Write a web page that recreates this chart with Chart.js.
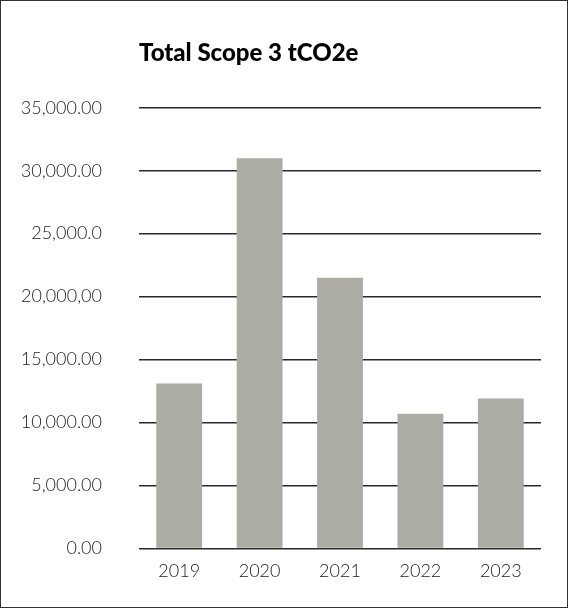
<!DOCTYPE html>
<html>
<head>
<meta charset="utf-8">
<script src="https://cdn.jsdelivr.net/npm/chart.js@4"></script>
<style>
  html, body { margin: 0; padding: 0; background: #fff; }
  #wrap { width: 568px; height: 608px; box-sizing: border-box; border: 1px solid #333; position: relative; }
  canvas { display: block; }
</style>
</head>
<body>
<div id="wrap"><canvas id="scopeChart" width="566" height="606"></canvas></div>
<script>
// values
const years = ['2019', '2020', '2021', '2022', '2023'];
const scope3 = [13100, 31000, 21500, 10700, 11900];
const yTickValues = [0, 5000, 10000, 15000, 20000, 25000, 30000, 35000];
const yTickLabels = ['0.00', '5,000.00', '10,000.00', '15,000.00', '20,000,00', '25,000.0', '30,000.00', '35,000.00'];

const labelFont = { family: 'Lato', size: 18, weight: '300' };

const ctx = document.getElementById('scopeChart').getContext('2d');
new Chart(ctx, {
    type: 'bar',
    data: {
        labels: years,
        datasets: [{
            label: 'Total Scope 3 tCO2e',
            data: scope3,
            backgroundColor: '#acaca4',
            borderWidth: 0,
            categoryPercentage: 1,
            barPercentage: 0.57
        }]
    },
    options: {
        responsive: false,
        animation: false,
        layout: { padding: { left: 17, right: 26, top: 0, bottom: 21 } },
        plugins: {
            legend: { display: false },
            tooltip: { enabled: false },
            title: {
                display: true,
                text: 'Total Scope 3 tCO2e',
                align: 'start',
                fullSize: false,
                color: '#000',
                font: { family: 'Lato', size: 24, weight: '900' },
                padding: { top: 38, bottom: 40 }
            }
        },
        scales: {
            x: {
                grid: { display: false },
                border: { display: false },
                ticks: { color: '#222', font: labelFont, padding: 4 }
            },
            y: {
                min: 0,
                max: 35000,
                z: 1,
                afterBuildTicks: (axis) => {
                    axis.ticks = yTickValues.map(v => ({ value: v }));
                },
                afterFit: (axis) => { axis.width = 121; },
                grid: { color: '#2a2a2a', lineWidth: 1.5, drawTicks: false },
                border: { display: false },
                ticks: {
                    color: '#222',
                    font: labelFont,
                    padding: 37,
                    callback: (value) => yTickLabels[yTickValues.indexOf(value)]
                }
            }
        }
    }
});
</script>
</body>
</html>
